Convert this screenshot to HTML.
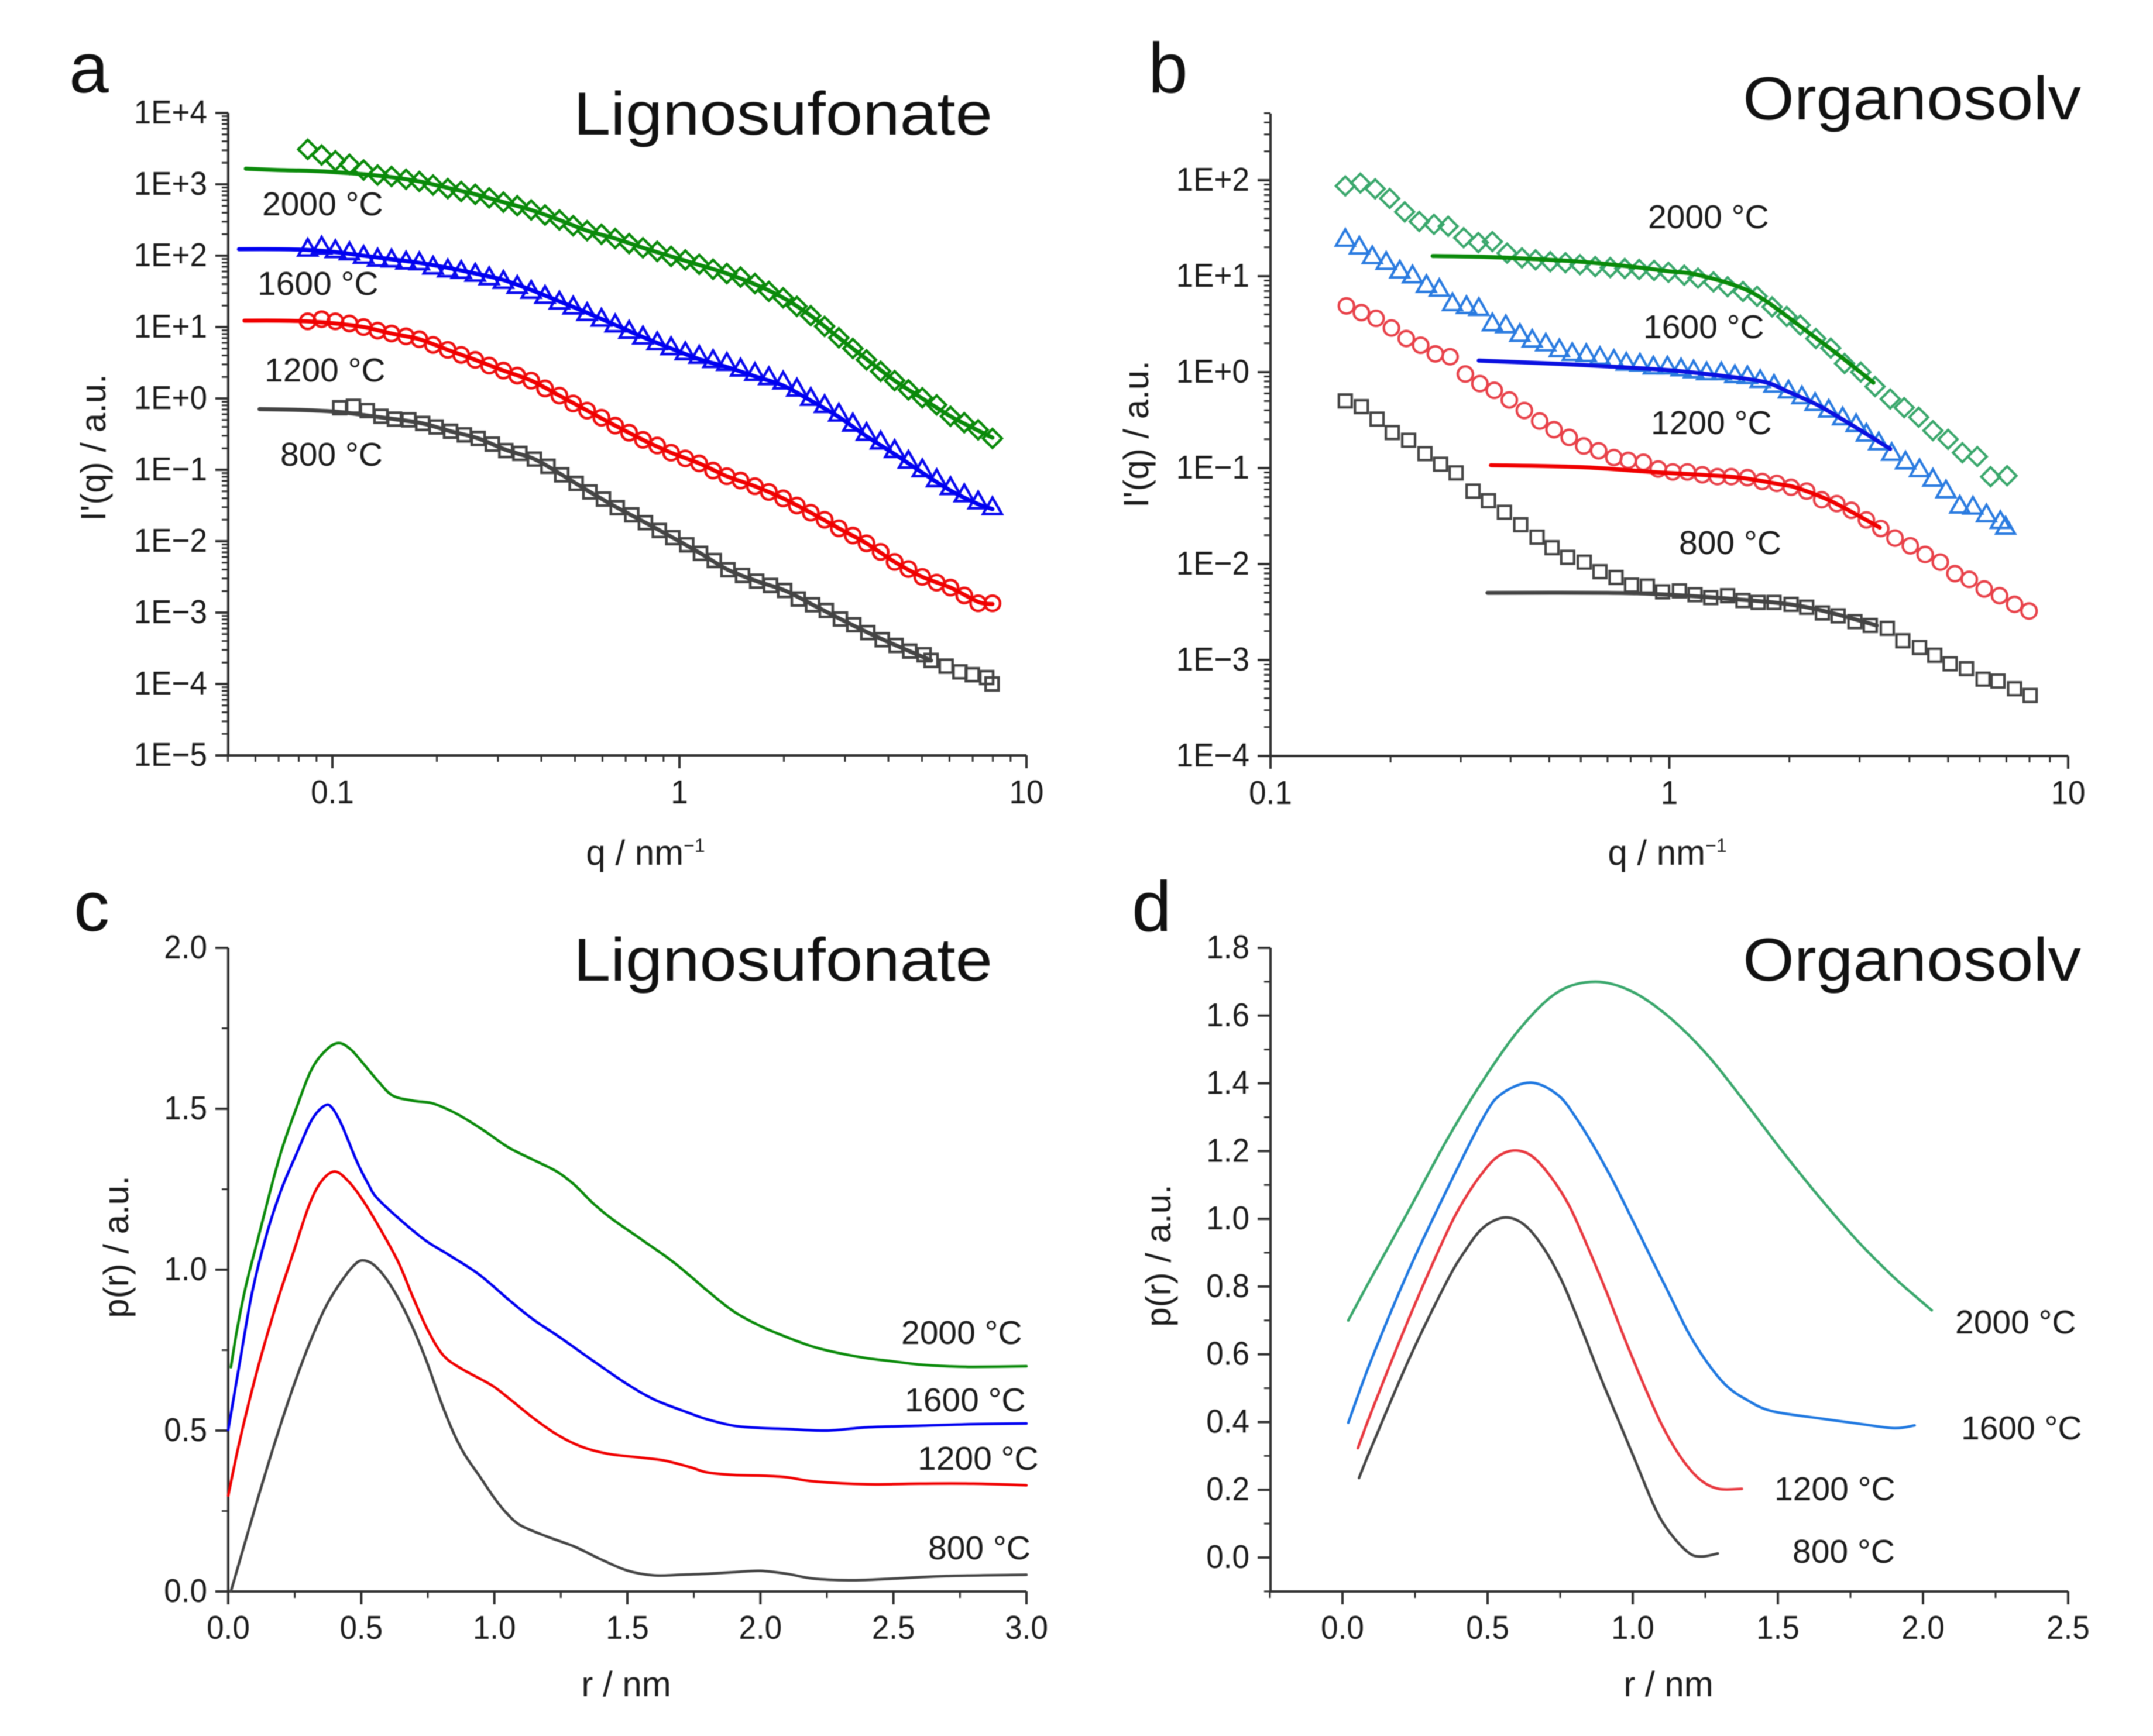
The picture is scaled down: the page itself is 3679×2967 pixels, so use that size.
<!DOCTYPE html>
<html lang="en">
<head>
<meta charset="utf-8">
<title>SAXS intensity and pair distance distributions</title>
<style>
html,body{margin:0;padding:0;background:#fff;width:3679px;height:2967px;overflow:hidden}
svg{display:block;font-family:"Liberation Sans",sans-serif;fill:#1c1c1c;filter:blur(0.7px)}
.tick{font-size:57px}
.axt{font-size:60px}
.ann{font-size:57px}
.ttl{font-size:104px;fill:#111}
.let{font-size:122px;fill:#111}
</style>
</head>
<body>
<svg id="fig" xmlns="http://www.w3.org/2000/svg" width="3679" height="2967" viewBox="0 0 3679 2967">
<text class="let" x="118" y="158">a</text>
<text class="let" x="1962" y="158">b</text>
<text class="let" x="126" y="1591">c</text>
<text class="let" x="1934" y="1591">d</text>
<text class="ttl" x="980" y="230" textLength="716" lengthAdjust="spacingAndGlyphs">Lignosufonate</text>
<text class="ttl" x="2978" y="204" textLength="578" lengthAdjust="spacingAndGlyphs">Organosolv</text>
<text class="ttl" x="980" y="1676" textLength="716" lengthAdjust="spacingAndGlyphs">Lignosufonate</text>
<text class="ttl" x="2978" y="1676" textLength="578" lengthAdjust="spacingAndGlyphs">Organosolv</text>

<text class="axt" text-anchor="middle" transform="translate(180 765) rotate(-90)">I'(q) / a.u.</text>
<text class="axt" text-anchor="middle" transform="translate(1962 742) rotate(-90)">I'(q) / a.u.</text>
<text class="axt" text-anchor="middle" transform="translate(219 2131) rotate(-90)">p(r) / a.u.</text>
<text class="axt" text-anchor="middle" transform="translate(2000 2146) rotate(-90)">p(r) / a.u.</text>
<text class="axt" text-anchor="middle" x="1103" y="1478">q / nm<tspan font-size="32" dy="-22">−1</tspan></text>
<text class="axt" text-anchor="middle" x="2849" y="1478">q / nm<tspan font-size="32" dy="-22">−1</tspan></text>
<text class="axt" text-anchor="middle" x="1070" y="2899">r / nm</text>
<text class="axt" text-anchor="middle" x="2851" y="2899">r / nm</text>

<text class="ann" x="448" y="368">2000 °C</text>
<text class="ann" x="440" y="504">1600 °C</text>
<text class="ann" x="452" y="652">1200 °C</text>
<text class="ann" x="479" y="796">800 °C</text>
<text class="ann" x="2816" y="390">2000 °C</text>
<text class="ann" x="2808" y="578">1600 °C</text>
<text class="ann" x="2821" y="742">1200 °C</text>
<text class="ann" x="2869" y="947">800 °C</text>
<text class="ann" x="1540" y="2297">2000 °C</text>
<text class="ann" x="1546" y="2412">1600 °C</text>
<text class="ann" x="1568" y="2512">1200 °C</text>
<text class="ann" x="1586" y="2665">800 °C</text>
<text class="ann" x="3341" y="2279">2000 °C</text>
<text class="ann" x="3351" y="2460">1600 °C</text>
<text class="ann" x="3032" y="2564">1200 °C</text>
<text class="ann" x="3063" y="2671">800 °C</text>
</svg>
<script>
// ---------- tick labels ----------
const aDecades=[4,3,2,1,0,-1,-2,-3,-4,-5];
const aDecadeLabels=["1E+4","1E+3","1E+2","1E+1","1E+0","1E−1","1E−2","1E−3","1E−4","1E−5"];
const bDecades=[2,1,0,-1,-2,-3,-4];
const bDecadeLabels=["1E+2","1E+1","1E+0","1E−1","1E−2","1E−3","1E−4"];
const qTicks=[0.1,1,10];
const qTickLabels=["0.1","1","10"];
const cXTicks=[0,0.5,1,1.5,2,2.5,3];
const cXLabels=["0.0","0.5","1.0","1.5","2.0","2.5","3.0"];
const cYTicks=[0,0.5,1,1.5,2];
const cYLabels=["0.0","0.5","1.0","1.5","2.0"];
const dXTicks=[0,0.5,1,1.5,2,2.5];
const dXLabels=["0.0","0.5","1.0","1.5","2.0","2.5"];
const dYTicks=[0,0.2,0.4,0.6,0.8,1,1.2,1.4,1.6,1.8];
const dYLabels=["0.0","0.2","0.4","0.6","0.8","1.0","1.2","1.4","1.6","1.8"];

// ---------- panel a: markers (q in 1/nm, log10 of intensity) ----------
const aQ=[0.0849,0.0931,0.102,0.112,0.123,0.135,0.148,0.163,0.178,0.195,0.215,0.235,0.258,0.283,0.311,0.341,0.374,0.410,0.451,0.494,0.542,0.596,0.653,0.716,0.785,0.863,0.946,1.04,1.14,1.25,1.37,1.50,1.65,1.81,1.99,2.18,2.39,2.62,2.88,3.16,3.46,3.80,4.17,4.57,5.01,5.51,6.04,6.62,7.26,7.98];
const aLog2000=[3.49,3.41,3.33,3.28,3.20,3.13,3.11,3.07,3.04,2.99,2.94,2.90,2.86,2.81,2.75,2.70,2.64,2.57,2.50,2.42,2.35,2.30,2.24,2.17,2.11,2.06,1.99,1.94,1.88,1.81,1.75,1.70,1.61,1.50,1.41,1.29,1.16,1.01,0.85,0.70,0.54,0.38,0.25,0.12,0.01,-0.09,-0.25,-0.34,-0.44,-0.56];
const aLog1600=[2.10,2.13,2.08,2.05,2.00,1.96,1.95,1.92,1.91,1.85,1.81,1.79,1.75,1.70,1.65,1.58,1.51,1.44,1.36,1.29,1.20,1.12,1.04,0.95,0.87,0.79,0.72,0.65,0.60,0.54,0.50,0.42,0.36,0.30,0.24,0.14,0.01,-0.09,-0.21,-0.35,-0.48,-0.60,-0.72,-0.87,-0.99,-1.13,-1.24,-1.34,-1.44,-1.52];
const aLog1200=[1.08,1.11,1.08,1.05,1.00,0.95,0.91,0.87,0.83,0.75,0.68,0.61,0.54,0.46,0.39,0.32,0.25,0.14,0.04,-0.07,-0.17,-0.27,-0.38,-0.48,-0.58,-0.66,-0.76,-0.84,-0.91,-1.01,-1.09,-1.15,-1.23,-1.31,-1.40,-1.50,-1.60,-1.70,-1.82,-1.92,-2.03,-2.15,-2.29,-2.39,-2.50,-2.58,-2.65,-2.76,-2.87,-2.87];
const aQ800=[0.105,0.115,0.126,0.138,0.151,0.166,0.182,0.199,0.219,0.240,0.263,0.289,0.316,0.347,0.382,0.418,0.458,0.504,0.552,0.604,0.662,0.729,0.798,0.875,0.957,1.05,1.15,1.26,1.38,1.52,1.67,1.83,2.01,2.20,2.42,2.65,2.91,3.18,3.49,3.84,4.21,4.61,5.07,5.31,5.87,6.43,6.98,7.68,7.96];
const aLog800=[-0.13,-0.11,-0.17,-0.25,-0.29,-0.30,-0.35,-0.40,-0.46,-0.51,-0.56,-0.64,-0.73,-0.77,-0.85,-0.95,-1.07,-1.19,-1.31,-1.41,-1.53,-1.63,-1.74,-1.85,-1.95,-2.05,-2.17,-2.27,-2.40,-2.48,-2.56,-2.62,-2.69,-2.81,-2.89,-2.97,-3.09,-3.17,-3.28,-3.38,-3.46,-3.54,-3.59,-3.67,-3.75,-3.83,-3.87,-3.91,-4.00];

// ---------- panel a: fit lines ----------
const aFitQ2000=[0.0563,0.07,0.0849,0.102,0.123,0.148,0.178,0.215,0.258,0.311,0.374,0.451,0.542,0.653,0.785,0.946,1.14,1.37,1.65,1.99,2.39,2.88,3.46,4.17,5.01,6.04,7.26,7.98];
const aFitLog2000=[3.22,3.20,3.19,3.17,3.14,3.10,3.04,2.95,2.86,2.75,2.64,2.50,2.35,2.24,2.11,1.99,1.87,1.75,1.60,1.41,1.16,0.85,0.55,0.25,0.0,-0.25,-0.45,-0.55];
const aFitQ1600=[0.0538,0.07,0.0849,0.102,0.123,0.148,0.178,0.215,0.258,0.311,0.374,0.451,0.542,0.653,0.785,0.946,1.14,1.37,1.65,1.99,2.39,2.88,3.46,4.17,5.01,6.04,7.26,7.98];
const aFitLog1600=[2.09,2.09,2.08,2.05,2.0,1.95,1.90,1.83,1.75,1.66,1.52,1.36,1.20,1.03,0.86,0.70,0.55,0.44,0.31,0.18,-0.03,-0.26,-0.53,-0.78,-1.04,-1.29,-1.48,-1.55];
const aFitQ1200=[0.0558,0.07,0.0849,0.102,0.123,0.148,0.178,0.215,0.258,0.311,0.374,0.451,0.542,0.653,0.785,0.946,1.14,1.37,1.65,1.99,2.39,2.88,3.46,4.17,5.01,6.04,7.26,7.98];
const aFitLog1200=[1.09,1.09,1.08,1.05,1.0,0.91,0.83,0.68,0.54,0.39,0.25,0.04,-0.17,-0.38,-0.58,-0.76,-0.91,-1.09,-1.23,-1.40,-1.60,-1.82,-2.03,-2.29,-2.50,-2.65,-2.85,-2.88];
const aFitQ800=[0.0617,0.08,0.105,0.126,0.151,0.182,0.219,0.263,0.316,0.382,0.458,0.552,0.662,0.798,0.957,1.15,1.38,1.67,2.01,2.42,2.91,3.49,4.21,5.31];
const aFitLog800=[-0.15,-0.16,-0.19,-0.24,-0.29,-0.35,-0.46,-0.56,-0.72,-0.85,-1.07,-1.31,-1.53,-1.74,-1.95,-2.17,-2.40,-2.56,-2.69,-2.89,-3.09,-3.28,-3.46,-3.67];

// ---------- panel b: markers ----------
const bQ2000=[0.154,0.168,0.183,0.199,0.217,0.236,0.257,0.279,0.305,0.332,0.360,0.392,0.427,0.462,0.503,0.549,0.597,0.652,0.711,0.773,0.840,0.916,0.995,1.09,1.18,1.29,1.40,1.53,1.66,1.81,1.97,2.13,2.33,2.54,2.75,3.02,3.28,3.58,3.88,4.22,4.58,5.00,5.43,5.92,6.39,7.03];
const bLog2000=[1.94,1.97,1.91,1.81,1.67,1.57,1.54,1.52,1.40,1.35,1.36,1.24,1.19,1.17,1.15,1.14,1.12,1.10,1.09,1.08,1.07,1.06,1.04,1.01,0.98,0.94,0.89,0.84,0.79,0.68,0.58,0.49,0.35,0.25,0.09,0,-0.15,-0.28,-0.37,-0.47,-0.61,-0.70,-0.84,-0.88,-1.09,-1.08];
const bQ1600=[0.154,0.167,0.180,0.195,0.211,0.227,0.246,0.265,0.286,0.310,0.333,0.360,0.389,0.422,0.453,0.490,0.530,0.571,0.619,0.670,0.726,0.780,0.844,0.912,0.989,1.07,1.15,1.24,1.35,1.46,1.57,1.69,1.83,1.99,2.15,2.32,2.51,2.72,2.94,3.12,3.35,3.61,3.91,4.24,4.58,4.94,5.35,5.77,6.24,6.76,6.97];
const bLog1600=[1.39,1.31,1.21,1.15,1.06,1.01,0.91,0.87,0.72,0.69,0.67,0.51,0.49,0.40,0.34,0.30,0.24,0.20,0.19,0.16,0.13,0.10,0.09,0.06,0.06,0.04,0.02,0,0,-0.03,-0.04,-0.08,-0.13,-0.19,-0.25,-0.32,-0.39,-0.47,-0.54,-0.64,-0.73,-0.84,-0.93,-1.01,-1.11,-1.23,-1.39,-1.40,-1.48,-1.55,-1.61];
const bQ1200=[0.155,0.169,0.184,0.201,0.219,0.238,0.259,0.282,0.308,0.335,0.364,0.397,0.433,0.473,0.514,0.561,0.610,0.665,0.726,0.789,0.861,0.938,1.02,1.11,1.21,1.32,1.43,1.57,1.71,1.86,2.02,2.21,2.41,2.63,2.86,3.12,3.39,3.68,4.02,4.38,4.78,5.20,5.65,6.16,6.73,7.34,7.98];
const bLog1200=[0.69,0.62,0.56,0.46,0.35,0.28,0.19,0.16,-0.02,-0.12,-0.19,-0.29,-0.40,-0.51,-0.60,-0.68,-0.77,-0.82,-0.89,-0.92,-0.94,-1.01,-1.04,-1.04,-1.07,-1.09,-1.09,-1.10,-1.14,-1.16,-1.20,-1.24,-1.33,-1.37,-1.44,-1.54,-1.63,-1.73,-1.81,-1.90,-1.98,-2.10,-2.16,-2.26,-2.33,-2.42,-2.49];
const bQ800=[0.154,0.169,0.185,0.202,0.222,0.244,0.267,0.292,0.322,0.352,0.386,0.424,0.466,0.508,0.556,0.612,0.670,0.735,0.804,0.881,0.962,1.06,1.16,1.27,1.40,1.53,1.67,1.83,2.02,2.21,2.42,2.65,2.92,3.19,3.52,3.85,4.24,4.63,5.06,5.56,6.12,6.67,7.34,8.03];
const bLog800=[-0.30,-0.36,-0.49,-0.63,-0.71,-0.85,-0.96,-1.05,-1.24,-1.34,-1.46,-1.59,-1.72,-1.83,-1.93,-1.98,-2.08,-2.14,-2.22,-2.23,-2.29,-2.28,-2.32,-2.35,-2.33,-2.38,-2.40,-2.40,-2.42,-2.45,-2.51,-2.54,-2.60,-2.64,-2.67,-2.80,-2.87,-2.95,-3.04,-3.09,-3.20,-3.22,-3.30,-3.37];

// ---------- panel b: fit lines ----------
const bFitQ2000=[0.255,0.35,0.45,0.6,0.8,1.0,1.16,1.47,1.72,2.19,2.56,2.89,3.25];
const bFitLog2000=[1.21,1.20,1.18,1.15,1.10,1.05,1.02,0.90,0.76,0.44,0.23,0.06,-0.11];
const bFitQ1600=[0.333,0.5,0.7,1.0,1.3,1.72,2.0,2.37,2.89,3.58];
const bFitLog1600=[0.12,0.09,0.06,0.02,-0.03,-0.10,-0.21,-0.35,-0.56,-0.80];
const bFitQ1200=[0.357,0.6,0.9,1.2,1.5,1.9,2.1,2.56,3.37];
const bFitLog1200=[-0.97,-0.99,-1.04,-1.07,-1.10,-1.17,-1.21,-1.35,-1.62];
const bFitQ800=[0.35,0.7,1.0,1.5,2.0,2.5,3.31];
const bFitLog800=[-2.30,-2.30,-2.32,-2.37,-2.42,-2.50,-2.64];

// ---------- panel c ----------
const cR2000=[0.01,0.034,0.068,0.113,0.158,0.202,0.259,0.315,0.371,0.416,0.46,0.505,0.561,0.618,0.696,0.763,0.82,0.877,0.965,1.055,1.145,1.235,1.302,1.369,1.437,1.549,1.661,1.737,1.8,1.9,2.0,2.1,2.2,2.3,2.4,2.5,2.6,2.7,2.8,3.0];
const cP2000=[0.697,0.818,0.955,1.10,1.245,1.375,1.509,1.625,1.685,1.704,1.685,1.643,1.588,1.541,1.525,1.518,1.5,1.476,1.43,1.379,1.342,1.305,1.263,1.208,1.161,1.096,1.031,0.98,0.935,0.87,0.825,0.79,0.76,0.74,0.725,0.715,0.705,0.70,0.698,0.70];
const cR1600=[0,0.045,0.09,0.146,0.202,0.259,0.315,0.365,0.393,0.427,0.483,0.528,0.561,0.651,0.741,0.831,0.943,1.055,1.145,1.246,1.381,1.504,1.605,1.737,1.8,1.9,2.0,2.1,2.25,2.4,2.6,2.8,3.0];
const cP1600=[0.502,0.72,0.93,1.115,1.254,1.365,1.467,1.511,1.5,1.449,1.337,1.263,1.221,1.152,1.091,1.045,0.985,0.906,0.846,0.79,0.711,0.642,0.595,0.553,0.535,0.515,0.508,0.505,0.50,0.51,0.515,0.52,0.522];
const cR1200=[0,0.045,0.113,0.18,0.247,0.303,0.348,0.399,0.449,0.505,0.573,0.64,0.696,0.752,0.808,0.875,0.988,1.055,1.145,1.235,1.324,1.425,1.549,1.639,1.737,1.8,1.9,2.0,2.1,2.2,2.4,2.6,2.8,3.0];
const cP1200=[0.298,0.475,0.70,0.89,1.059,1.198,1.272,1.305,1.277,1.217,1.124,1.022,0.911,0.809,0.734,0.693,0.642,0.6,0.54,0.488,0.451,0.428,0.416,0.407,0.386,0.37,0.362,0.36,0.355,0.342,0.333,0.335,0.335,0.33];
const cR800=[0.01,0.113,0.18,0.247,0.315,0.371,0.427,0.472,0.505,0.55,0.606,0.674,0.741,0.797,0.842,0.887,0.943,1.005,1.05,1.1,1.2,1.3,1.4,1.5,1.6,1.7,1.8,1.9,2.0,2.1,2.2,2.35,2.5,2.7,3.0];
const cP800=[0,0.294,0.475,0.642,0.79,0.892,0.966,1.013,1.029,1.013,0.957,0.855,0.725,0.595,0.502,0.428,0.36,0.285,0.24,0.205,0.17,0.14,0.10,0.065,0.05,0.052,0.055,0.06,0.064,0.055,0.04,0.035,0.04,0.048,0.052];

// ---------- panel d ----------
const dR2000=[0.02,0.10,0.229,0.357,0.486,0.615,0.743,0.872,1.0,1.129,1.258,1.386,1.515,1.643,1.772,1.90,1.988,2.03];
const dP2000=[0.70,0.827,1.026,1.229,1.411,1.565,1.67,1.70,1.67,1.593,1.483,1.345,1.20,1.064,0.937,0.827,0.761,0.73];
const dR1600=[0.02,0.10,0.229,0.357,0.486,0.55,0.649,0.743,0.807,0.872,0.936,1.0,1.065,1.129,1.193,1.258,1.322,1.386,1.476,1.643,1.772,1.90,1.971];
const dP1600=[0.398,0.585,0.849,1.081,1.30,1.37,1.402,1.365,1.295,1.205,1.105,0.995,0.882,0.772,0.662,0.574,0.508,0.469,0.433,0.411,0.396,0.382,0.39];
const dR1200=[0.053,0.10,0.229,0.357,0.422,0.486,0.537,0.595,0.653,0.717,0.782,0.846,0.91,0.975,1.039,1.103,1.168,1.232,1.296,1.376];
const dP1200=[0.323,0.431,0.706,0.955,1.06,1.14,1.185,1.202,1.185,1.125,1.037,0.915,0.783,0.64,0.508,0.387,0.293,0.23,0.203,0.203];
const dR800=[0.057,0.10,0.229,0.357,0.422,0.486,0.56,0.627,0.692,0.756,0.82,0.885,0.949,1.013,1.078,1.129,1.193,1.238,1.293];
const dP800=[0.235,0.326,0.585,0.811,0.905,0.975,1.004,0.982,0.915,0.816,0.684,0.541,0.409,0.277,0.144,0.072,0.014,0.003,0.012];

// ---------- axis functions ----------
const xA=q=>568+593*Math.log10(q/0.1);
const yA=v=>193+(4-v)*122;
const xB=q=>2171+681.5*Math.log10(q/0.1);
const yB=v=>308+(2-v)*164;
const xC=r=>390+r*(1754-390)/3;
const yC=p=>2720-p*(2720-1620)/2;
const xD=r=>2294+r*496;
const yD=p=>2662-p*578.9;

const NS='http://www.w3.org/2000/svg';
const svg=document.getElementById('fig');
const AXIS='#303030';

function shape(tag,parent,attrs){
  const el=document.createElementNS(NS,tag);
  for(const k in attrs)el.setAttribute(k,attrs[k]);
  parent.appendChild(el);
  return el;
}
function smoothPath(xs,ys){
  let d='M'+xs[0].toFixed(1)+' '+ys[0].toFixed(1);
  for(let i=0;i<xs.length-1;i++){
    const x0=xs[Math.max(i-1,0)],y0=ys[Math.max(i-1,0)];
    const x1=xs[i],y1=ys[i],x2=xs[i+1],y2=ys[i+1];
    const x3=xs[Math.min(i+2,xs.length-1)],y3=ys[Math.min(i+2,xs.length-1)];
    d+='C'+(x1+(x2-x0)/6).toFixed(1)+' '+(y1+(y2-y0)/6).toFixed(1)+' '+(x2-(x3-x1)/6).toFixed(1)+' '+(y2-(y3-y1)/6).toFixed(1)+' '+x2.toFixed(1)+' '+y2.toFixed(1);
  }
  return d;
}
function drawLine(name,xVals,yVals,fx,fy,color,width){
  const p=shape('path',svg,{d:smoothPath(xVals.map(fx),yVals.map(fy)),fill:'none',stroke:color,'stroke-width':width,'stroke-linejoin':'round','stroke-linecap':'round'});
  
  
}
function drawMarkers(name,kind,xVals,yVals,fx,fy,color,width){
  const g=shape('g',svg,{fill:'none',stroke:color,'stroke-width':width});
  
  
  xVals.forEach((v,i)=>{
    const x=fx(v),y=fy(yVals[i]);
    let m;
    if(kind==='diamond')m=shape('polygon',g,{points:[x,y-16,x+16,y,x,y+16,x-16,y].join(' ')});
    if(kind==='triangle')m=shape('polygon',g,{points:[x,y-16,x+16,y+12,x-16,y+12].join(' ')});
    if(kind==='circle')m=shape('circle',g,{cx:x,cy:y,r:13});
    if(kind==='square')m=shape('rect',g,{x:x-11,y:y-11,width:22,height:22});
    
    
  });
}
function segment(name,x1,y1,x2,y2,w){
  const l=shape('line',svg,{x1:x1,y1:y1,x2:x2,y2:y2,stroke:AXIS,'stroke-width':w});
  
  
}
function label(name,txt,x,y,anchor){
  const t=shape('text',svg,{x:x,y:y,'text-anchor':anchor,class:'tick'});
  t.textContent=txt;
  
  
  t.setAttribute('textLength',(t.getComputedTextLength()*0.93).toFixed(1));
  t.setAttribute('lengthAdjust','spacingAndGlyphs');
}
function frame(p,x0,y0,x1,y1){
  segment(p+'-y-axis-line',x0,y0,x0,y1+2,4);
  segment(p+'-x-axis-line',x0-2,y1,x1,y1,4);
}
function logTicksY(p,fy,decades,labels,x0,top){
  decades.forEach((d,i)=>{
    const y=fy(d);
    segment(p+'-y-tick',x0-22,y,x0,y,4);
    label(p+'-y-tick-label',labels[i],x0-36,y+18,'end');
    for(let m=2;m<10;m++){
      const ym=fy(d+Math.log10(m));
      if(ym>=top-1)segment(p+'-y-minor-tick',x0-11,ym,x0,ym,3);
    }
  });
}
function logTicksX(p,fx,y1,x0,x1){
  qTicks.forEach((q,i)=>{
    segment(p+'-x-tick',fx(q),y1,fx(q),y1+22,4);
    label(p+'-x-tick-label',qTickLabels[i],fx(q),y1+82,'middle');
  });
  for(let d=-2;d<1;d++)for(let m=2;m<10;m++){
    const x=fx(m*Math.pow(10,d));
    if(x>=x0-1&&x<=x1+1)segment(p+'-x-minor-tick',x,y1,x,y1+11,3);
  }
}
function linTicks(p,ticksX,labelsX,ticksY,labelsY,fx,fy,x0,y1,rx0,rx1,ry0,ry1,stepX,stepY){
  ticksX.forEach((v,i)=>{
    segment(p+'-x-tick',fx(v),y1,fx(v),y1+22,4);
    label(p+'-x-tick-label',labelsX[i],fx(v),y1+81,'middle');
  });
  ticksY.forEach((v,i)=>{
    segment(p+'-y-tick',x0-22,fy(v),x0,fy(v),4);
    label(p+'-y-tick-label',labelsY[i],x0-36,fy(v)+18,'end');
  });
  for(let v=rx0;v<=rx1+1e-6;v+=stepX)segment(p+'-x-minor-tick',fx(v),y1,fx(v),y1+11,3);
  for(let v=ry0;v<=ry1+1e-6;v+=stepY)segment(p+'-y-minor-tick',x0-11,fy(v),x0,fy(v),3);
}

// ---------- panel a ----------
frame('panel-a',390,193,1754,1291);
logTicksY('panel-a',yA,aDecades,aDecadeLabels,390,193);
logTicksX('panel-a',xA,1291,390,1754);
drawMarkers('panel-a-markers-2000','diamond',aQ,aLog2000,xA,yA,'#0b8a0b',4.5);
drawLine('panel-a-fit-2000',aFitQ2000,aFitLog2000,xA,yA,'#0a8a0a',7);
drawMarkers('panel-a-markers-1600','triangle',aQ,aLog1600,xA,yA,'#0a0aee',4.5);
drawLine('panel-a-fit-1600',aFitQ1600,aFitLog1600,xA,yA,'#0000f0',7);
drawMarkers('panel-a-markers-1200','circle',aQ,aLog1200,xA,yA,'#ee1111',4.5);
drawLine('panel-a-fit-1200',aFitQ1200,aFitLog1200,xA,yA,'#f00000',7);
drawMarkers('panel-a-markers-800','square',aQ800,aLog800,xA,yA,'#444444',4.5);
drawLine('panel-a-fit-800',aFitQ800,aFitLog800,xA,yA,'#444444',7);

// ---------- panel b ----------
frame('panel-b',2171,194,3534,1292);
logTicksY('panel-b',yB,bDecades,bDecadeLabels,2171,194);
logTicksX('panel-b',xB,1292,2171,3534);
drawMarkers('panel-b-markers-2000','diamond',bQ2000,bLog2000,xB,yB,'#3aa76c',4.2);
drawLine('panel-b-fit-2000',bFitQ2000,bFitLog2000,xB,yB,'#0a8a0a',7);
drawMarkers('panel-b-markers-1600','triangle',bQ1600,bLog1600,xB,yB,'#2a7be0',4.2);
drawLine('panel-b-fit-1600',bFitQ1600,bFitLog1600,xB,yB,'#0a10e0',7);
drawMarkers('panel-b-markers-1200','circle',bQ1200,bLog1200,xB,yB,'#e8424a',4.2);
drawLine('panel-b-fit-1200',bFitQ1200,bFitLog1200,xB,yB,'#f00000',7);
drawMarkers('panel-b-markers-800','square',bQ800,bLog800,xB,yB,'#444444',4.2);
drawLine('panel-b-fit-800',bFitQ800,bFitLog800,xB,yB,'#444444',7);

// ---------- panel c ----------
frame('panel-c',390,1620,1754,2720);
linTicks('panel-c',cXTicks,cXLabels,cYTicks,cYLabels,xC,yC,390,2720,0.25,2.75,0.25,1.75,0.5,0.5);
drawLine('panel-c-curve-2000',cR2000,cP2000,xC,yC,'#0a8a0a',4.5);
drawLine('panel-c-curve-1600',cR1600,cP1600,xC,yC,'#0000f0',4.5);
drawLine('panel-c-curve-1200',cR1200,cP1200,xC,yC,'#f00000',4.5);
drawLine('panel-c-curve-800',cR800,cP800,xC,yC,'#444444',4.5);

// ---------- panel d ----------
frame('panel-d',2171,1620,3534,2720);
linTicks('panel-d',dXTicks,dXLabels,dYTicks,dYLabels,xD,yD,2171,2720,-0.25,2.25,-0.1,1.7,0.5,0.2);
drawLine('panel-d-curve-2000',dR2000,dP2000,xD,yD,'#3aa76c',4.5);
drawLine('panel-d-curve-1600',dR1600,dP1600,xD,yD,'#1f78e0',4.5);
drawLine('panel-d-curve-1200',dR1200,dP1200,xD,yD,'#e8383f',4.5);
drawLine('panel-d-curve-800',dR800,dP800,xD,yD,'#444444',4.5);
</script>
</body>
</html>
